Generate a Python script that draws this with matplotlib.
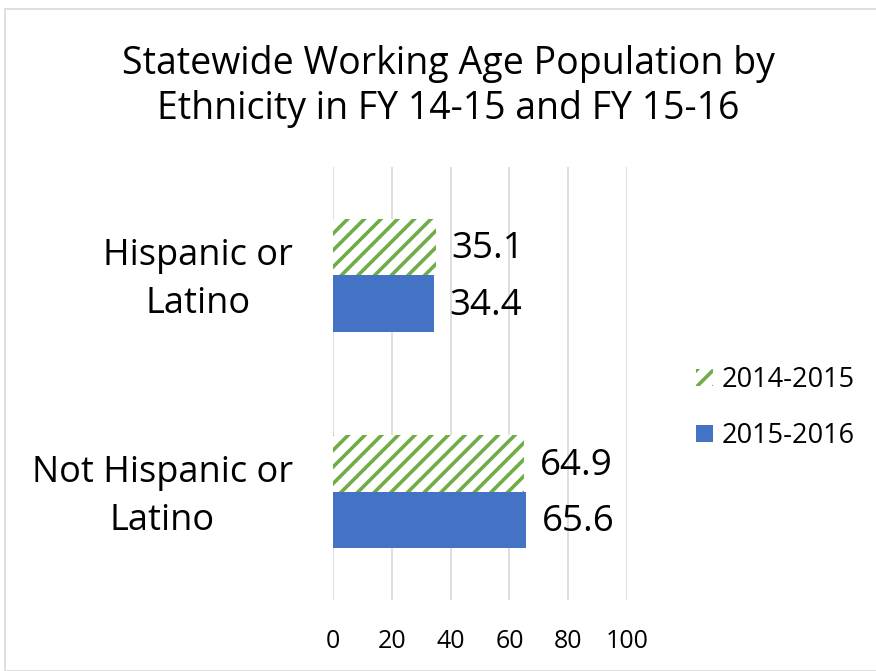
import matplotlib
matplotlib.use("Agg")
import matplotlib.pyplot as plt
import numpy as np
from matplotlib.patches import Rectangle

categories = ["Hispanic or\nLatino", "Not Hispanic or\nLatino"]
series_names = ["2014-2015", "2015-2016"]
values_1415 = [35.1, 64.9]
values_1516 = [34.4, 65.6]
x_ticks = [0, 20, 40, 60, 80, 100]

GREEN = "#70AD47"
BLUE = "#4472C4"
GRID = "#D9D9D9"
FONT = ["Open Sans", "DejaVu Sans"]

plt.rcParams["font.family"] = FONT
plt.rcParams["hatch.linewidth"] = 2.6
plt.rcParams["hatch.color"] = GREEN

fig = plt.figure(figsize=(8.76, 6.71), dpi=100)
fig.patches.append(Rectangle((5 / 876, 0), 1, 1 - 9 / 671, transform=fig.transFigure,
                             fill=False, edgecolor="#D9D9D9", linewidth=1.2))

ax = fig.add_axes([333 / 876, 71 / 671, 294 / 876, 433 / 671])

bar_h = 0.26
y = np.arange(len(categories))
b1 = ax.barh(y - bar_h / 2, values_1415, height=bar_h, color="white",
             edgecolor=GREEN, hatch="//", linewidth=0, label=series_names[0], zorder=3)
b2 = ax.barh(y + bar_h / 2, values_1516, height=bar_h, color=BLUE,
             linewidth=0, label=series_names[1], zorder=3)

for bars in (b1, b2):
    for rect in bars:
        w = rect.get_width()
        ax.text(w + 5.3, rect.get_y() + rect.get_height() / 2 + 0.01, f"{w:.1f}",
                va="center", ha="left", fontsize=26.5, color="#000000")

ax.set_xlim(0, 100)
ax.set_ylim(1.5, -0.5)
ax.set_xticks(x_ticks)
ax.set_xticklabels([str(t) for t in x_ticks], fontsize=18)
ax.set_yticks(y - 0.025)
ax.set_yticklabels(categories, fontsize=26, ha="right", multialignment="center",
                   linespacing=1.45)
ax.tick_params(axis="y", length=0, pad=29)
ax.tick_params(axis="x", length=0, pad=21)
ax.xaxis.grid(True, color=GRID, linewidth=1.2, zorder=0)
ax.set_axisbelow(True)
for s in ax.spines.values():
    s.set_visible(False)

leg = fig.legend(handles=[b1, b2], labels=series_names, loc="center left",
                 bbox_to_anchor=(672 / 876, 1 - 408 / 671), frameon=False,
                 fontsize=19.5, handlelength=0.6, handleheight=0.6,
                 handletextpad=0.35, labelspacing=1.05)

fig.text(448 / 876, 1 - 64 / 671, "Statewide Working Age Population by",
         ha="center", va="center", fontsize=27)
fig.text(448 / 876, 1 - 109 / 671, "Ethnicity in FY 14-15 and FY 15-16",
         ha="center", va="center", fontsize=27)

fig.savefig("out.png", dpi=100, facecolor="white")
